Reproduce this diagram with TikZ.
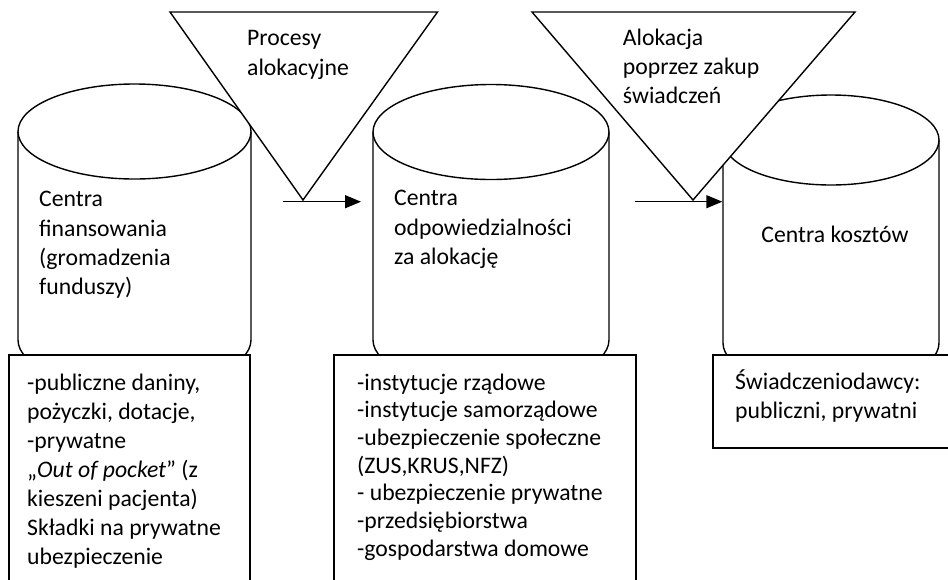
\documentclass[tikz,border=0pt]{standalone}
\usepackage{fontspec}
\setmainfont{Carlito}
\usetikzlibrary{arrows.meta}
\tikzset{
  outline/.style={draw=black, line width=1.4pt, fill=white},
  txt/.style={anchor=north west, inner sep=0pt, align=left},
  fnt/.style={font=\fontsize{23.7}{#1}\selectfont},
  flow/.style={draw=black, line width=1.4pt, -{Triangle[length=16pt,width=13pt]}},
}
\begin{document}
\begin{tikzpicture}[x=1pt,y=-1pt]
\useasboundingbox (0,0) rectangle (948,579);
\clip (0,0) rectangle (948,579);
% cylinder 1
\draw[outline] (18,131.5) -- (18,340) arc[start angle=180, end angle=360, x radius=116.5pt, y radius=47.5pt] -- (251,131.5);
\draw[outline] (134.5,131.5) ellipse [x radius=116.5pt, y radius=47.5pt];
% cylinder 2
\draw[outline] (373,132) -- (373,340) arc[start angle=180, end angle=360, x radius=118pt, y radius=47.5pt] -- (609,132);
\draw[outline] (491,132) ellipse [x radius=118pt, y radius=47.5pt];
% cylinder 3
\draw[outline] (723,140) -- (723,343) arc[start angle=180, end angle=360, x radius=108pt, y radius=45pt] -- (939,140);
\draw[outline] (831,140) ellipse [x radius=108pt, y radius=45pt];
% triangles
\draw[outline, line join=miter] (170,12) -- (437.5,12) -- (303,200) -- cycle;
\draw[outline, line join=miter] (532,12) -- (855,12) -- (693,200) -- cycle;
% boxes
\draw[outline] (9,355) rectangle (250,600);
\draw[outline] (334,355) rectangle (636,600);
\draw[outline] (713,355) rectangle (960,448);
% arrows
\coordinate (a1s) at (282.7,201.7);
\coordinate (a1e) at (361,201.7);
\coordinate (a2s) at (635,201.7);
\coordinate (a2e) at (722.3,201.7);
\draw[flow] (a1s) -- (a1e);
\draw[flow] (a2s) -- (a2e);
% texts
\node[txt, fnt=29.3] (t1) at (247,25) {\strut Procesy\\alokacyjne};
\node[txt, fnt=29.3] (t2) at (622.7,24.5) {\strut Alokacja\\poprzez zakup\\świadczeń};
\node[txt, fnt=29.3] (c1) at (39,186) {\strut Centra\\finansowania\\(gromadzenia\\funduszy)};
\node[txt, fnt=29.3] (c2) at (394,185.2) {\strut Centra\\odpowiedzialności\\za alokację};
\node[anchor=base, inner sep=0pt, fnt=29.3] (c3) at (835,242.7) {Centra kosztów};
\node[txt, fnt=29] (b1) at (27,370.2) {\strut -publiczne daniny,\\pożyczki, dotacje,\\-prywatne\\„\textit{Out of pocket}” (z\\kieszeni pacjenta)\\Składki na prywatne\\ubezpieczenie};
\node[txt, fnt=27.7] (b2) at (357,370.6) {\strut -instytucje rządowe\\-instytucje samorządowe\\-ubezpieczenie społeczne\\(ZUS,KRUS,NFZ)\\- ubezpieczenie prywatne\\-przedsiębiorstwa\\-gospodarstwa domowe};
\node[txt, fnt=29] (b3) at (735,368.7) {\strut Świadczeniodawcy:\\publiczni, prywatni};
\end{tikzpicture}
\end{document}
